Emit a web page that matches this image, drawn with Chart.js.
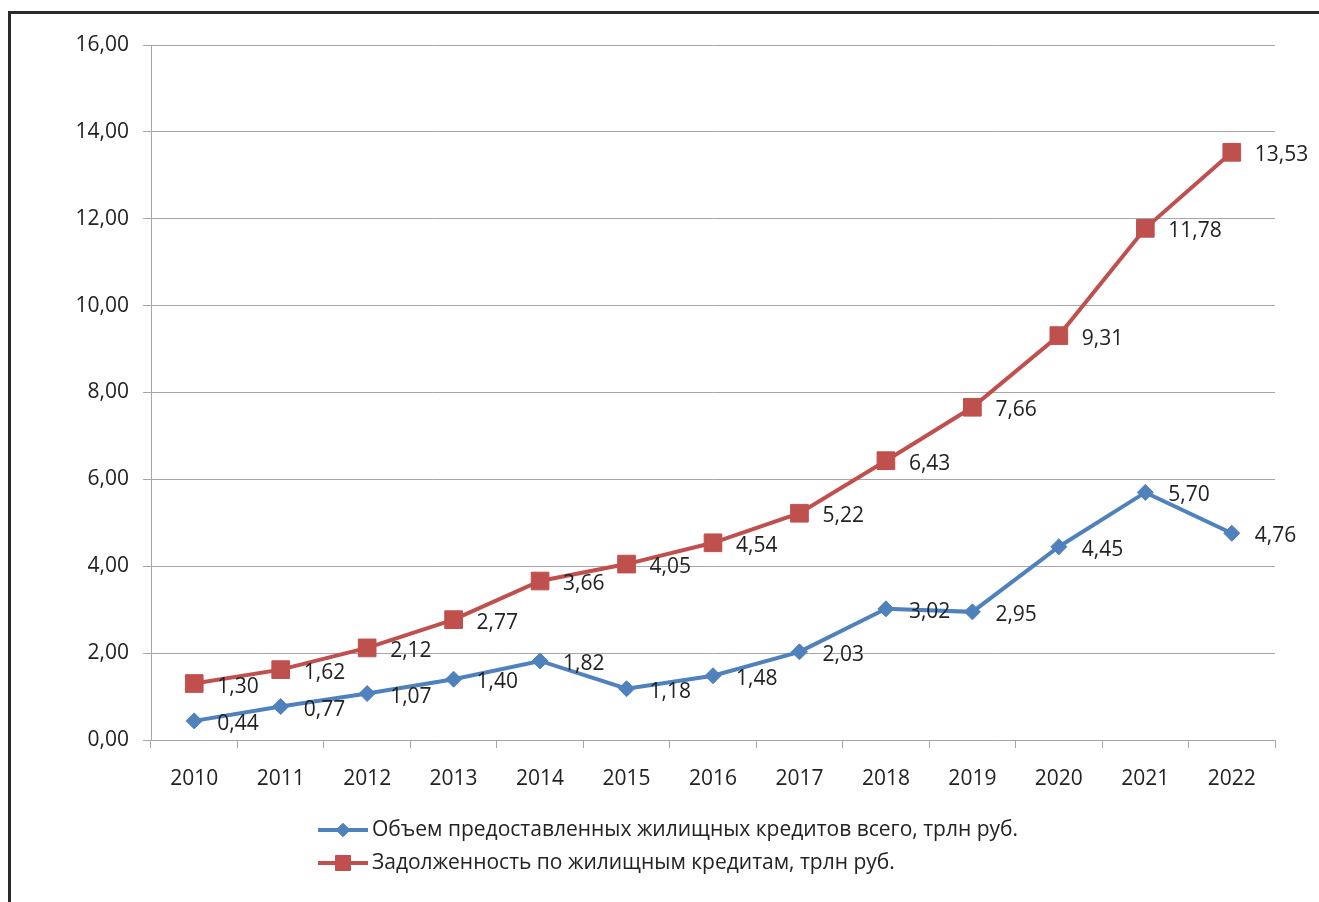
<!DOCTYPE html>
<html>
<head>
<meta charset="utf-8">
<script src="https://cdn.jsdelivr.net/npm/chart.js@4"></script>
<style>
  html, body { margin: 0; padding: 0; background: #fff; overflow: hidden; }
  #wrap { position: absolute; left: 0; top: 0; width: 1319px; height: 902px; }
</style>
</head>
<body>
<div id="wrap"><canvas id="myChart" width="1319" height="902"></canvas></div>
<script>
const years = ['2010', '2011', '2012', '2013', '2014', '2015', '2016', '2017', '2018', '2019', '2020', '2021', '2022'];
const issued = [0.44, 0.77, 1.07, 1.40, 1.82, 1.18, 1.48, 2.03, 3.02, 2.95, 4.45, 5.70, 4.76];
const debt = [1.30, 1.62, 2.12, 2.77, 3.66, 4.05, 4.54, 5.22, 6.43, 7.66, 9.31, 11.78, 13.53];
const seriesNames = [
  'Объем предоставленных жилищных кредитов всего, трлн руб.',
  'Задолженность по жилищным кредитам, трлн руб.',
];

const BLUE = '#4F81BD';
const RED = '#C0504D';
const GRID = '#A6A6A6';
const TEXT = '#222';
const FONT = '"Open Sans", sans-serif';
const FSIZE = 21;

const fmt = v => v.toFixed(2).replace('.', ',');

// outer frame of the chart box
const frame = {
  id: 'frame',
  beforeDraw(chart) {
    const ctx = chart.ctx;
    ctx.save();
    ctx.fillStyle = '#fff';
    ctx.fillRect(0, 0, chart.width, chart.height);
    ctx.strokeStyle = '#2a2a2a';
    ctx.lineWidth = 3;
    ctx.strokeRect(9.5, 12.5, chart.width + 20, chart.height + 20);
    ctx.restore();
  }
};

// value labels to the right of each point
const valueLabels = {
  id: 'valueLabels',
  afterDatasetsDraw(chart) {
    const ctx = chart.ctx;
    ctx.save();
    ctx.font = FSIZE + 'px ' + FONT;
    ctx.fillStyle = TEXT;
    ctx.textAlign = 'left';
    ctx.textBaseline = 'middle';
    chart.data.datasets.forEach((ds, i) => {
      chart.getDatasetMeta(i).data.forEach((pt, j) => {
        ctx.fillText(fmt(ds.data[j]), pt.x + 23, pt.y + 3);
      });
    });
    ctx.restore();
  }
};

// legend below the axis: line with marker, then the series name
const lineLegend = {
  id: 'lineLegend',
  afterDraw(chart) {
    const ctx = chart.ctx;
    const x0 = 318, y0 = 830, rowH = 33;
    ctx.save();
    ctx.font = FSIZE + 'px ' + FONT;
    ctx.textAlign = 'left';
    ctx.textBaseline = 'middle';
    chart.data.datasets.forEach((ds, i) => {
      const y = y0 + i * rowH;
      ctx.strokeStyle = ds.borderColor;
      ctx.lineWidth = 4;
      ctx.beginPath();
      ctx.moveTo(x0, y);
      ctx.lineTo(x0 + 50, y);
      ctx.stroke();
      ctx.fillStyle = ds.backgroundColor;
      ctx.lineWidth = 1;
      Chart.helpers.drawPoint(ctx, {
        pointStyle: ds.pointStyle,
        radius: ds.pointRadius * 0.85,
        borderWidth: 1
      }, x0 + 25, y);
      ctx.fillStyle = TEXT;
      ctx.fillText(ds.label, x0 + 54, y);
    });
    ctx.restore();
  }
};

const data = {
  labels: years,
  datasets: [{
    label: seriesNames[0],
    data: issued,
    borderColor: BLUE,
    backgroundColor: BLUE,
    borderWidth: 4,
    pointStyle: 'rectRot',
    pointRadius: 8,
    pointBorderWidth: 1,
    tension: 0,
  }, {
    label: seriesNames[1],
    data: debt,
    borderColor: RED,
    backgroundColor: RED,
    borderWidth: 4,
    pointStyle: 'rect',
    pointRadius: 12.5,
    pointBorderWidth: 1,
    tension: 0,
  }]
};

const config = {
  type: 'line',
  data: data,
  plugins: [frame, valueLabels, lineLegend],
  options: {
    responsive: false,
    animation: false,
    layout: { padding: { left: 0, top: 45, right: 44, bottom: 92 } },
    plugins: {
      legend: { display: false },
      tooltip: { enabled: false },
    },
    scales: {
      x: {
        offset: true,
        grid: {
          offset: true,
          drawOnChartArea: false,
          drawTicks: true,
          tickLength: 8,
          color: GRID,
        },
        border: { display: true, color: GRID, width: 1 },
        ticks: {
          color: TEXT,
          font: { family: FONT, size: FSIZE },
          padding: 18,
          maxRotation: 0,
        },
        afterFit(scale) { scale.height = 70; },
      },
      y: {
        min: 0,
        max: 16,
        grid: {
          color: GRID,
          tickLength: 8,
        },
        border: { display: true, color: GRID, width: 1 },
        ticks: {
          stepSize: 2,
          color: TEXT,
          font: { family: FONT, size: FSIZE },
          padding: 14,
          callback: v => fmt(v),
        },
        afterFit(scale) { scale.width = 151; },
      }
    }
  }
};

const myChart = new Chart(
  document.getElementById('myChart'),
  config
);
</script>
</body>
</html>
